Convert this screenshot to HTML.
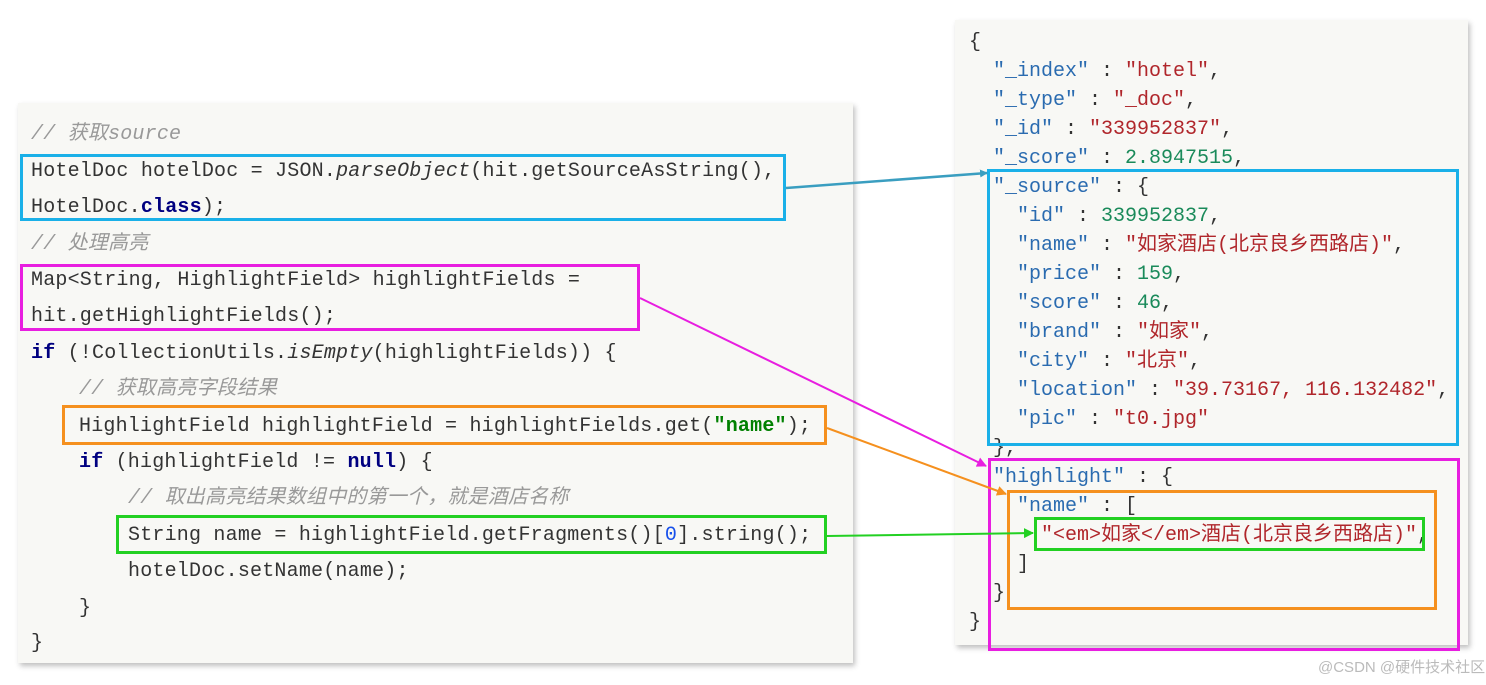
<!DOCTYPE html>
<html><head><meta charset="utf-8"><style>
body{margin:0;width:1486px;height:685px;background:#fff;position:relative;overflow:hidden;font-family:"Liberation Mono","Noto Sans CJK SC",monospace;}
.panel{position:absolute;background:#f8f8f5;box-shadow:2px 3px 5px rgba(0,0,0,.25);}
.l{position:absolute;font-size:20px;line-height:24px;white-space:pre;color:#333;margin-top:3px;}
.L .l{letter-spacing:0.2px}
.c{color:#999;font-style:italic}
.k{color:#000080;font-weight:bold}
.g{color:#008000;font-weight:bold}
.n{color:#1750eb}
.jk{color:#2a6bb0}
.js{color:#b0262b}
.jn{color:#1a8a5a}
.b{position:absolute;border:3px solid;box-sizing:border-box;}
</style></head><body>
<div class="panel" style="left:18px;top:103px;width:835px;height:560px"></div>
<div class="panel" style="left:955px;top:20px;width:513px;height:625px"></div>
<div class="L">
<div class="l c" style="left:31px;top:120px">// 获取source</div>
<div class="l" style="left:31px;top:157px">HotelDoc hotelDoc = JSON.<i>parseObject</i>(hit.getSourceAsString(),</div>
<div class="l" style="left:31px;top:193px">HotelDoc.<span class="k">class</span>);</div>
<div class="l c" style="left:31px;top:230px">// 处理高亮</div>
<div class="l" style="left:31px;top:266px">Map&lt;String, HighlightField&gt; highlightFields =</div>
<div class="l" style="left:31px;top:302px">hit.getHighlightFields();</div>
<div class="l" style="left:31px;top:339px"><span class="k">if</span> (!CollectionUtils.<i>isEmpty</i>(highlightFields)) {</div>
<div class="l c" style="left:79px;top:375px">// 获取高亮字段结果</div>
<div class="l" style="left:79px;top:412px">HighlightField highlightField = highlightFields.get(<span class="g">"name"</span>);</div>
<div class="l" style="left:79px;top:448px"><span class="k">if</span> (highlightField != <span class="k">null</span>) {</div>
<div class="l c" style="left:128px;top:484px">// 取出高亮结果数组中的第一个，就是酒店名称</div>
<div class="l" style="left:128px;top:521px">String name = highlightField.getFragments()[<span class="n">0</span>].string();</div>
<div class="l" style="left:128px;top:557px">hotelDoc.setName(name);</div>
<div class="l" style="left:79px;top:594px">}</div>
<div class="l" style="left:31px;top:629px">}</div>
</div>
<div class="l" style="left:969px;top:28px">{</div>
<div class="l" style="left:993px;top:57px"><span class="jk">"_index"</span> : <span class="js">"hotel"</span>,</div>
<div class="l" style="left:993px;top:86px"><span class="jk">"_type"</span> : <span class="js">"_doc"</span>,</div>
<div class="l" style="left:993px;top:115px"><span class="jk">"_id"</span> : <span class="js">"339952837"</span>,</div>
<div class="l" style="left:993px;top:144px"><span class="jk">"_score"</span> : <span class="jn">2.8947515</span>,</div>
<div class="l" style="left:993px;top:173px"><span class="jk">"_source"</span> : {</div>
<div class="l" style="left:1017px;top:202px"><span class="jk">"id"</span> : <span class="jn">339952837</span>,</div>
<div class="l" style="left:1017px;top:231px"><span class="jk">"name"</span> : <span class="js">"如家酒店(北京良乡西路店)"</span>,</div>
<div class="l" style="left:1017px;top:260px"><span class="jk">"price"</span> : <span class="jn">159</span>,</div>
<div class="l" style="left:1017px;top:289px"><span class="jk">"score"</span> : <span class="jn">46</span>,</div>
<div class="l" style="left:1017px;top:318px"><span class="jk">"brand"</span> : <span class="js">"如家"</span>,</div>
<div class="l" style="left:1017px;top:347px"><span class="jk">"city"</span> : <span class="js">"北京"</span>,</div>
<div class="l" style="left:1017px;top:376px"><span class="jk">"location"</span> : <span class="js">"39.73167, 116.132482"</span>,</div>
<div class="l" style="left:1017px;top:405px"><span class="jk">"pic"</span> : <span class="js">"t0.jpg"</span></div>
<div class="l" style="left:993px;top:434px">},</div>
<div class="l" style="left:993px;top:463px"><span class="jk">"highlight"</span> : {</div>
<div class="l" style="left:1017px;top:492px"><span class="jk">"name"</span> : [</div>
<div class="l" style="left:1041px;top:521px"><span class="js">"&lt;em&gt;如家&lt;/em&gt;酒店(北京良乡西路店)"</span>,</div>
<div class="l" style="left:1017px;top:550px">]</div>
<div class="l" style="left:993px;top:579px">}</div>
<div class="l" style="left:969px;top:608px">}</div>

<div class="b" style="left:20px;top:154px;width:766px;height:67px;border-color:#1ab0e8"></div>
<div class="b" style="left:20px;top:264px;width:620px;height:67px;border-color:#e81ee0"></div>
<div class="b" style="left:62px;top:405px;width:765px;height:40px;border-color:#f5901e"></div>
<div class="b" style="left:116px;top:515px;width:711px;height:39px;border-color:#22d022"></div>
<div class="b" style="left:987px;top:169px;width:472px;height:277px;border-color:#1ab0e8"></div>
<div class="b" style="left:988px;top:458px;width:472px;height:193px;border-color:#e81ee0"></div>
<div class="b" style="left:1007px;top:490px;width:430px;height:120px;border-color:#f5901e"></div>
<div class="b" style="left:1034px;top:517px;width:391px;height:34px;border-color:#22d022"></div>

<svg style="position:absolute;left:0;top:0" width="1486" height="685">
<defs>
<marker id="a1" markerWidth="8" markerHeight="8" refX="7" refY="4" orient="auto" markerUnits="userSpaceOnUse"><path d="M0,0L8,4L0,8z" fill="#3a9ec0"/></marker>
<marker id="a2" markerWidth="10" markerHeight="10" refX="9" refY="5" orient="auto" markerUnits="userSpaceOnUse"><path d="M0,0L10,5L0,10z" fill="#e81ee0"/></marker>
<marker id="a3" markerWidth="10" markerHeight="10" refX="9" refY="5" orient="auto" markerUnits="userSpaceOnUse"><path d="M0,0L10,5L0,10z" fill="#f5901e"/></marker>
<marker id="a4" markerWidth="10" markerHeight="10" refX="9" refY="5" orient="auto" markerUnits="userSpaceOnUse"><path d="M0,0L10,5L0,10z" fill="#22d022"/></marker>
</defs>
<line x1="786" y1="188" x2="987" y2="173" stroke="#3a9ec0" stroke-width="2.5" marker-end="url(#a1)"/>
<line x1="640" y1="298" x2="986" y2="466" stroke="#e81ee0" stroke-width="2" marker-end="url(#a2)"/>
<line x1="827" y1="428" x2="1006" y2="494" stroke="#f5901e" stroke-width="2" marker-end="url(#a3)"/>
<line x1="827" y1="536" x2="1033" y2="533" stroke="#22d022" stroke-width="2" marker-end="url(#a4)"/>
</svg>
<div style="position:absolute;left:1318px;top:656px;font-size:15px;color:#bbb;white-space:nowrap;font-family:'Liberation Sans','Noto Sans CJK SC',sans-serif">@CSDN @硬件技术社区</div>
</body></html>
